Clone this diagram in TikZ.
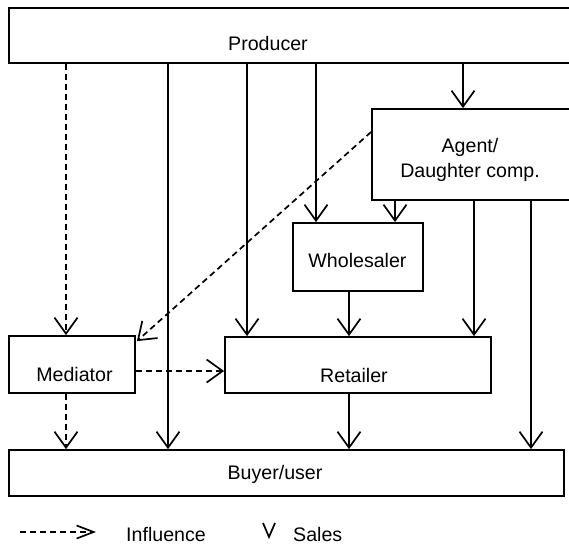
\documentclass[tikz,border=0pt]{standalone}
\usepackage{fontspec}
\setmainfont{Liberation Sans}
\usetikzlibrary{arrows.meta}
\newcommand{\chanFont}[0]{\fontsize{19.6pt}{25.5pt}\selectfont}

\begin{document}
\begin{tikzpicture}[x=1pt, y=-1pt]
  \tikzset{box/.style={draw, line width=1.8pt, inner sep=0pt},
    lbl/.style={font=\chanFont, inner sep=0pt, anchor=base, align=center},
    sales/.style={line width=1.7pt, -{Straight Barb[length=16pt,width=23pt]}},
    infl/.style={sales, dash pattern=on 6pt off 4pt}}
  \useasboundingbox (0,0) rectangle (569,544);
  % boxes
  \node[box, minimum width=563pt, minimum height=55pt] (prod) at (290.5,35.5) {};
  \node[box, minimum width=200pt, minimum height=91pt] (agent) at (472,154.5) {};
  \node[box, minimum width=130pt, minimum height=68pt] (whole) at (358,257) {};
  \node[box, minimum width=126pt, minimum height=57pt] (med) at (72,364.5) {};
  \node[box, minimum width=266pt, minimum height=56pt] (ret) at (358,365) {};
  \node[box, minimum width=555pt, minimum height=46pt] (buyer) at (286.5,473) {};
  \node[lbl] (prod-t) at (268,50) {Producer};
  \node[lbl, anchor=north] (agent-t) at (470,138) {Agent/\\Daughter comp.};
  \node[lbl] (whole-t) at (357.5,267) {Wholesaler};
  \node[lbl] (med-t) at (74.5,381) {Mediator};
  \node[lbl] (ret-t) at (354,382) {Retailer};
  \node[lbl] (buyer-t) at (275,479) {Buyer/user};
  % columns
  \coordinate (c1) at (66,0);
  \coordinate (c2) at (168,0);
  \coordinate (c3) at (247,0);
  \coordinate (c4) at (316,0);
  \coordinate (c5) at (395,0);
  \coordinate (c6) at (349,0);
  \coordinate (c7) at (463,0);
  \coordinate (c8) at (474,0);
  \coordinate (c9) at (531,0);
  \coordinate (r1) at (0,371);
  \coordinate (r2) at (0,132);
  \draw[sales] (prod.south -| c2) -- (buyer.north -| c2);
  \draw[sales] (prod.south -| c3) -- (ret.north -| c3);
  \draw[sales] (prod.south -| c4) -- (whole.north -| c4);
  \draw[sales] (prod.south -| c7) -- (agent.north -| c7);
  \draw[sales] (agent.south -| c5) -- (whole.north -| c5);
  \draw[sales] (agent.south -| c8) -- (ret.north -| c8);
  \draw[sales] (agent.south -| c9) -- (buyer.north -| c9);
  \draw[sales] (whole.south -| c6) -- (ret.north -| c6);
  \draw[sales] (ret.south -| c6) -- (buyer.north -| c6);
  \draw[infl] (prod.south -| c1) -- (med.north -| c1);
  \draw[infl] (med.south -| c1) -- (buyer.north -| c1);
  \draw[infl] (med.east |- r1) -- (ret.west |- r1);
  \draw[infl] (agent.west |- r2) -- ([xshift=1pt,yshift=-6pt]med.north east);
  % legend
  \coordinate (lg-a) at (20,532);
  \coordinate (lg-b) at (96,532);
  \draw[line width=1.7pt, dash pattern=on 6pt off 4pt, -{Straight Barb[length=17pt,width=13pt]}] (lg-a) -- (lg-b);
  \node[lbl] (infl-t) at (166,541) {Influence};
  \coordinate (lg-v) at (269,537);
  \draw[line width=1.7pt] ([shift={(-6,-14)}]lg-v) -- (lg-v) -- ([shift={(6,-14)}]lg-v);
  \node[lbl, anchor=base west] (sales-t) at (293,541) {Sales};
\end{tikzpicture}
\end{document}
